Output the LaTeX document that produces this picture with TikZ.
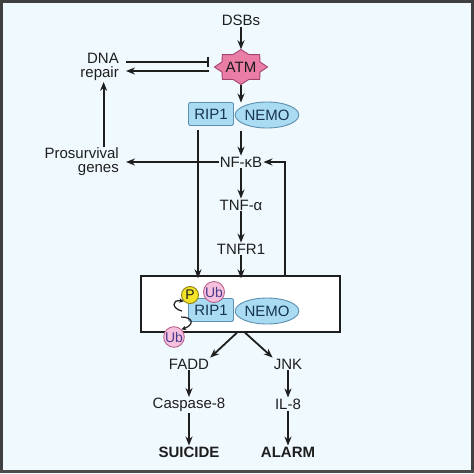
\documentclass[tikz,border=0pt]{standalone}
\usepackage{fontspec}
\setmainfont{Liberation Sans}
\usetikzlibrary{arrows.meta,shapes.geometric}

\definecolor{bgblue}{HTML}{F0F9FD}
\definecolor{atmpink}{HTML}{E97DA6}
\definecolor{atmline}{HTML}{A3436E}
\definecolor{protblue}{HTML}{A9DBF2}
\definecolor{protline}{HTML}{5C8FB0}
\definecolor{protText}{HTML}{173450}
\definecolor{ubpink}{HTML}{F6C0DE}
\definecolor{ubline}{HTML}{B9638F}
\definecolor{ubText}{HTML}{4B3B8B}
\definecolor{pyellow}{HTML}{F4E427}
\definecolor{pline}{HTML}{8C7F12}
\definecolor{txt}{HTML}{1E1E1E}

\tikzset{
  lbl/.style={font=\fontsize{15}{14}\selectfont, text=txt, inner sep=1pt, align=center},
  bold lbl/.style={lbl, font=\fontsize{15}{14}\selectfont\bfseries},
  arr/.style={-{Stealth[length=9pt,width=7pt]}, line width=1.8pt, txt},
  inh/.style={-{Bar[width=10pt,line width=1.8pt]}, line width=1.8pt, txt},
  small arr/.style={-{Stealth[length=4.5pt,width=4.5pt]}, line width=1.2pt, txt},
  ripbox/.style={lbl, text=protText, draw=protline, fill=protblue, line width=0.9pt,
    rounded corners=2pt, minimum width=45pt, minimum height=23pt},
  nemobox/.style={lbl, text=protText, ellipse, draw=protline, fill=protblue,
    line width=0.9pt, minimum width=58pt, minimum height=26pt, inner sep=0pt},
  ubdot/.style={lbl, text=ubText, circle, draw=ubline, fill=ubpink, line width=0.9pt,
    minimum size=21pt, inner sep=0pt, font=\fontsize{14}{14}\selectfont},
  pdot/.style={lbl, circle, draw=pline, fill=pyellow, line width=0.9pt,
    minimum size=17pt, inner sep=0pt, font=\fontsize{14}{14}\selectfont}
}

\begin{document}
\begin{tikzpicture}[x=1pt,y=-1pt]
\useasboundingbox (0,0) rectangle (474,474);
% background and frame
\fill[bgblue] (0,0) rectangle (474,474);
\draw[line width=3pt, black!75] (1.5,1.5) rectangle (472.5,471);
\draw[line width=3pt, black!70] (0,471.5) -- (474,471.5);

% ATM star
\fill[atmpink, draw=atmline, line width=0.9pt] (267.5,67)
  \foreach \i in {1,...,15} {
    -- ({241+(26.5-6*mod(\i,2))*cos(\i*22.5)},{67+(17.5-4*mod(\i,2))*sin(\i*22.5)})
  } -- cycle;

% nodes
\node[lbl] (dsb) at (241,20) {DSBs};
\node[lbl, text=black!90, minimum width=52pt, minimum height=35pt] (atm) at (241,67) {ATM};
\node[lbl, align=right, anchor=east] (dna) at (120,67) {DNA\\repair};
\node[ripbox] (rip) at (211,114) {RIP1};
\node[nemobox] (nemo) at (267,115) {NEMO};
\node[lbl] (nfkb) at (241,162) {NF-κB};
\node[lbl, align=right, anchor=east] (pros) at (120,162) {Prosurvival\\genes};
\node[lbl] (tnfa) at (241,205) {TNF-α};
\node[lbl] (tnfr) at (241,249) {TNFR1};

% complex
\node[draw=txt, fill=white, line width=1.3pt, minimum width=199pt, minimum height=56pt,
  inner sep=0pt] (cplx) at (240.5,304) {};
\node[ripbox] (rip2) at (211,310) {RIP1};
\node[nemobox] (nemo2) at (267,311) {NEMO};
\node[pdot] (phos) at (190,295) {P};
\node[ubdot] (ubA) at (214,292) {Ub};
\node[ubdot, minimum size=20pt] (ubB) at (174,337) {Ub};

\node[lbl] (fadd) at (189,364) {FADD};
\node[lbl] (jnk) at (288,364) {JNK};
\node[lbl] (casp) at (189,405) {Caspase-8};
\node[lbl] (il8) at (288,404) {IL-8};
\node[bold lbl] (suicide) at (189,452) {SUICIDE};
\node[bold lbl] (alarm) at (288,452) {ALARM};

\coordinate (ripdrop) at (198,130);
\coordinate (fback) at (285,276);

% connectors
\draw[arr] (dsb.south) -- (atm.north);
\draw[inh] ([xshift=6pt,yshift=5pt]dna.east) -- ([xshift=-6pt,yshift=5pt]atm.west);
\draw[arr] ([xshift=-6pt,yshift=-4pt]atm.west) -- ([xshift=6pt,yshift=-4pt]dna.east);
\draw[arr] (atm.south) -- ([yshift=-1pt]atm.south |- nemo.north);
\draw[arr] ([yshift=-3pt]atm.south |- nemo.south) -- (nfkb.north);
\draw[arr] (nfkb.west) -- ([xshift=6pt]pros.east);
\draw[arr] ([xshift=4pt]dna.south |- pros.north) -- ([xshift=4pt]dna.south);
\draw[arr] (ripdrop) -- ([yshift=-3pt]ripdrop |- cplx.north);
\draw[arr] (nfkb.south) -- (tnfa.north);
\draw[arr] (tnfa.south) -- (tnfr.north);
\draw[arr] (tnfr.south) -- ([yshift=-3pt]tnfr.south |- cplx.north);
\draw[arr] (fback) |- (nfkb.east);
\draw[arr] ([xshift=-3.5pt]cplx.south) -- (fadd.north east);
\draw[arr] ([xshift=4.5pt]cplx.south) -- (jnk.north west);
\draw[arr] (fadd.south) -- (casp.north);
\draw[arr] (jnk.south) -- (il8.north);
\draw[arr] (casp.south) -- (suicide.north);
\draw[arr] (il8.south) -- (alarm.north);

% modification arrows
\draw[small arr] ([xshift=-6pt,yshift=-1pt]rip2.west) .. controls (172,309) and (171,299) .. (phos.south west);
\draw[small arr] ([xshift=-7pt,yshift=-7pt]rip2.west) .. controls (194,317) and (194,325) .. (ubB.north east);
\end{tikzpicture}
\end{document}
